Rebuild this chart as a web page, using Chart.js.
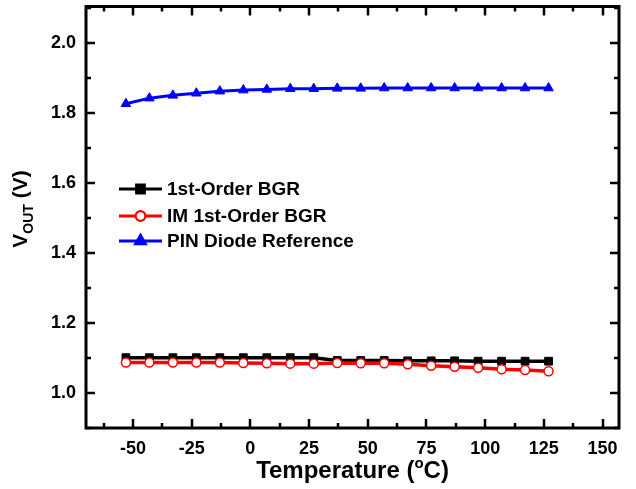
<!DOCTYPE html>
<html>
<head>
<meta charset="utf-8">
<script src="https://cdn.jsdelivr.net/npm/chart.js@4.4.1/dist/chart.umd.min.js"></script>
<style>
  html, body { margin: 0; padding: 0; background: #fff; }
  #wrap { width: 636px; height: 489px; position: relative; }
</style>
</head>
<body>
<div id="wrap"><canvas id="vref"></canvas></div>
<script>
// temperature sweep (°C)
const temps = [-53, -43, -33, -23, -13, -3, 7, 17, 27, 37, 47, 57, 67, 77, 87, 97, 107, 117, 127];

// output voltage (V) for each reference
const bgrFirst = [1.101, 1.101, 1.101, 1.101, 1.101, 1.101, 1.101, 1.101, 1.101, 1.093, 1.093, 1.093, 1.092, 1.092, 1.092, 1.091, 1.091, 1.091, 1.091];
const bgrIM = [1.087, 1.087, 1.087, 1.087, 1.087, 1.086, 1.085, 1.084, 1.084, 1.086, 1.085, 1.085, 1.082, 1.078, 1.075, 1.072, 1.068, 1.066, 1.062];
const pinDiode = [1.827, 1.843, 1.851, 1.857, 1.863, 1.866, 1.868, 1.870, 1.870, 1.871, 1.871, 1.872, 1.872, 1.872, 1.872, 1.872, 1.872, 1.872, 1.872];

const seriesNames = ["1st-Order BGR", "IM 1st-Order BGR", "PIN Diode Reference"];

const xTicks = [-50, -25, 0, 25, 50, 75, 100, 125, 150];
const yTicks = [1.0, 1.2, 1.4, 1.6, 1.8, 2.0];

const FONT = "'Liberation Sans', Arial, sans-serif";

// frame, inward ticks (major + minor), legend and axis titles
const framePlugin = {
  id: "frame",
  afterDraw(chart) {
    const { ctx, chartArea: a, scales } = chart;
    const xs = scales.x, ys = scales.y;
    ctx.save();
    ctx.strokeStyle = "#000";
    ctx.lineCap = "butt";

    // ticks on all four sides
    ctx.lineWidth = 2.5;
    const major = 9, minor = 5;
    const xMinor = xTicks.map((v) => v - 12.5).concat([xTicks[xTicks.length - 1] + 12.5]);
    const yMinor = yTicks.map((v) => v - 0.1).concat([yTicks[yTicks.length - 1] + 0.1]);

    ctx.beginPath();
    xTicks.forEach((v) => {
      const px = Math.round(xs.getPixelForValue(v));
      ctx.moveTo(px, a.bottom); ctx.lineTo(px, a.bottom - major);
      ctx.moveTo(px, a.top); ctx.lineTo(px, a.top + major);
    });
    xMinor.forEach((v) => {
      if (v < xs.min || v > xs.max) return;
      const px = Math.round(xs.getPixelForValue(v));
      ctx.moveTo(px, a.bottom); ctx.lineTo(px, a.bottom - minor);
      ctx.moveTo(px, a.top); ctx.lineTo(px, a.top + minor);
    });
    yTicks.forEach((v) => {
      const py = Math.round(ys.getPixelForValue(v));
      ctx.moveTo(a.left, py); ctx.lineTo(a.left + major, py);
      ctx.moveTo(a.right, py); ctx.lineTo(a.right - major, py);
    });
    yMinor.forEach((v) => {
      if (v < ys.min || v > ys.max) return;
      const py = Math.round(ys.getPixelForValue(v));
      ctx.moveTo(a.left, py); ctx.lineTo(a.left + minor, py);
      ctx.moveTo(a.right, py); ctx.lineTo(a.right - minor, py);
    });
    ctx.stroke();

    // box
    ctx.lineWidth = 3;
    ctx.strokeRect(a.left, a.top, a.right - a.left, a.bottom - a.top);

    // legend
    const rows = [189, 216, 241];
    const x0 = 119, x1 = 162;
    chart.data.datasets.forEach((ds, i) => {
      const y = rows[i];
      ctx.strokeStyle = ds.borderColor;
      ctx.lineWidth = 3;
      ctx.beginPath();
      ctx.moveTo(x0, y); ctx.lineTo(x1, y);
      ctx.stroke();
      Chart.helpers.drawPoint(ctx, {
        pointStyle: ds.pointStyle,
        radius: ds.pointRadius,
        borderWidth: ds.pointBorderWidth
      }, (x0 + x1) / 2, y);
      ctx.fillStyle = ds.pointBackgroundColor;
      ctx.strokeStyle = ds.pointBorderColor;
      ctx.lineWidth = ds.pointBorderWidth;
      ctx.fill();
      ctx.stroke();
      ctx.fillStyle = "#000";
      ctx.font = "bold 19px " + FONT;
      ctx.textAlign = "left";
      ctx.textBaseline = "middle";
      ctx.fillText(ds.label, 167, y + 1);
    });

    // x axis title with superscript degree
    ctx.fillStyle = "#000";
    ctx.textBaseline = "alphabetic";
    ctx.textAlign = "left";
    let big = "bold 24px " + FONT, small = "bold 15px " + FONT;
    const p1 = "Temperature (", p2 = "o", p3 = "C)";
    ctx.font = big; const w1 = ctx.measureText(p1).width, w3 = ctx.measureText(p3).width;
    ctx.font = small; const w2 = ctx.measureText(p2).width;
    let tx = (a.left + a.right) / 2 - (w1 + w2 + w3) / 2;
    const ty = 478;
    ctx.font = big; ctx.fillText(p1, tx, ty); tx += w1;
    ctx.font = small; ctx.fillText(p2, tx, ty - 10); tx += w2;
    ctx.font = big; ctx.fillText(p3, tx, ty);

    // y axis title with subscript
    big = "bold 21px " + FONT; small = "bold 14px " + FONT;
    ctx.save();
    ctx.translate(27, 209);
    ctx.rotate(-Math.PI / 2);
    const q1 = "V", q2 = "OUT", q3 = " (V)";
    ctx.font = big; const v1 = ctx.measureText(q1).width, v3 = ctx.measureText(q3).width;
    ctx.font = small; const v2 = ctx.measureText(q2).width;
    let sx = -(v1 + v2 + v3) / 2;
    ctx.font = big; ctx.fillText(q1, sx, 0); sx += v1;
    ctx.font = small; ctx.fillText(q2, sx, 6); sx += v2;
    ctx.font = big; ctx.fillText(q3, sx, 0);
    ctx.restore();

    ctx.restore();
  }
};

function toPoints(ys) {
  return temps.map((t, i) => ({ x: t, y: ys[i] }));
}

const ctx = document.getElementById("vref").getContext("2d");
new Chart(ctx, {
  type: "line",
  data: {
    datasets: [
      {
        label: seriesNames[0],
        data: toPoints(bgrFirst),
        borderColor: "#000",
        borderWidth: 3.5,
        pointStyle: "rect",
        pointRadius: 5.5,
        pointBorderWidth: 1,
        pointBackgroundColor: "#000",
        pointBorderColor: "#000",
        order: 2
      },
      {
        label: seriesNames[1],
        data: toPoints(bgrIM),
        borderColor: "#ff0000",
        borderWidth: 3.5,
        pointStyle: "circle",
        pointRadius: 4.5,
        pointBorderWidth: 1.5,
        pointBackgroundColor: "#fff",
        pointBorderColor: "#ff0000",
        order: 1
      },
      {
        label: seriesNames[2],
        data: toPoints(pinDiode),
        borderColor: "#0000ff",
        borderWidth: 3,
        pointStyle: "triangle",
        pointRadius: 5.5,
        pointBorderWidth: 1,
        pointBackgroundColor: "#0000ff",
        pointBorderColor: "#0000ff",
        order: 0
      }
    ]
  },
  options: {
    responsive: true,
    maintainAspectRatio: false,
    animation: false,
    layout: { padding: { top: 6, right: 17, left: 0, bottom: 0 } },
    plugins: {
      legend: { display: false },
      tooltip: { enabled: false }
    },
    scales: {
      x: {
        type: "linear",
        min: -70,
        max: 157,
        grid: { display: false, drawTicks: false },
        border: { display: false },
        afterBuildTicks: (s) => { s.ticks = xTicks.map((v) => ({ value: v })); },
        afterFit: (s) => { s.height = 61; s.paddingLeft = 0; s.paddingRight = 0; },
        ticks: {
          color: "#000",
          font: { family: FONT, size: 18, weight: "bold" },
          padding: 10,
          maxRotation: 0
        }
      },
      y: {
        type: "linear",
        min: 0.9,
        max: 2.105,
        grid: { display: false, drawTicks: false },
        border: { display: false },
        afterBuildTicks: (s) => { s.ticks = yTicks.map((v) => ({ value: v })); },
        afterFit: (s) => { s.width = 86; s.paddingTop = 0; s.paddingBottom = 0; },
        ticks: {
          color: "#000",
          font: { family: FONT, size: 18, weight: "bold" },
          padding: 10,
          callback: (v) => Number(v).toFixed(1)
        }
      }
    }
  },
  plugins: [framePlugin]
});
</script>
</body>
</html>
